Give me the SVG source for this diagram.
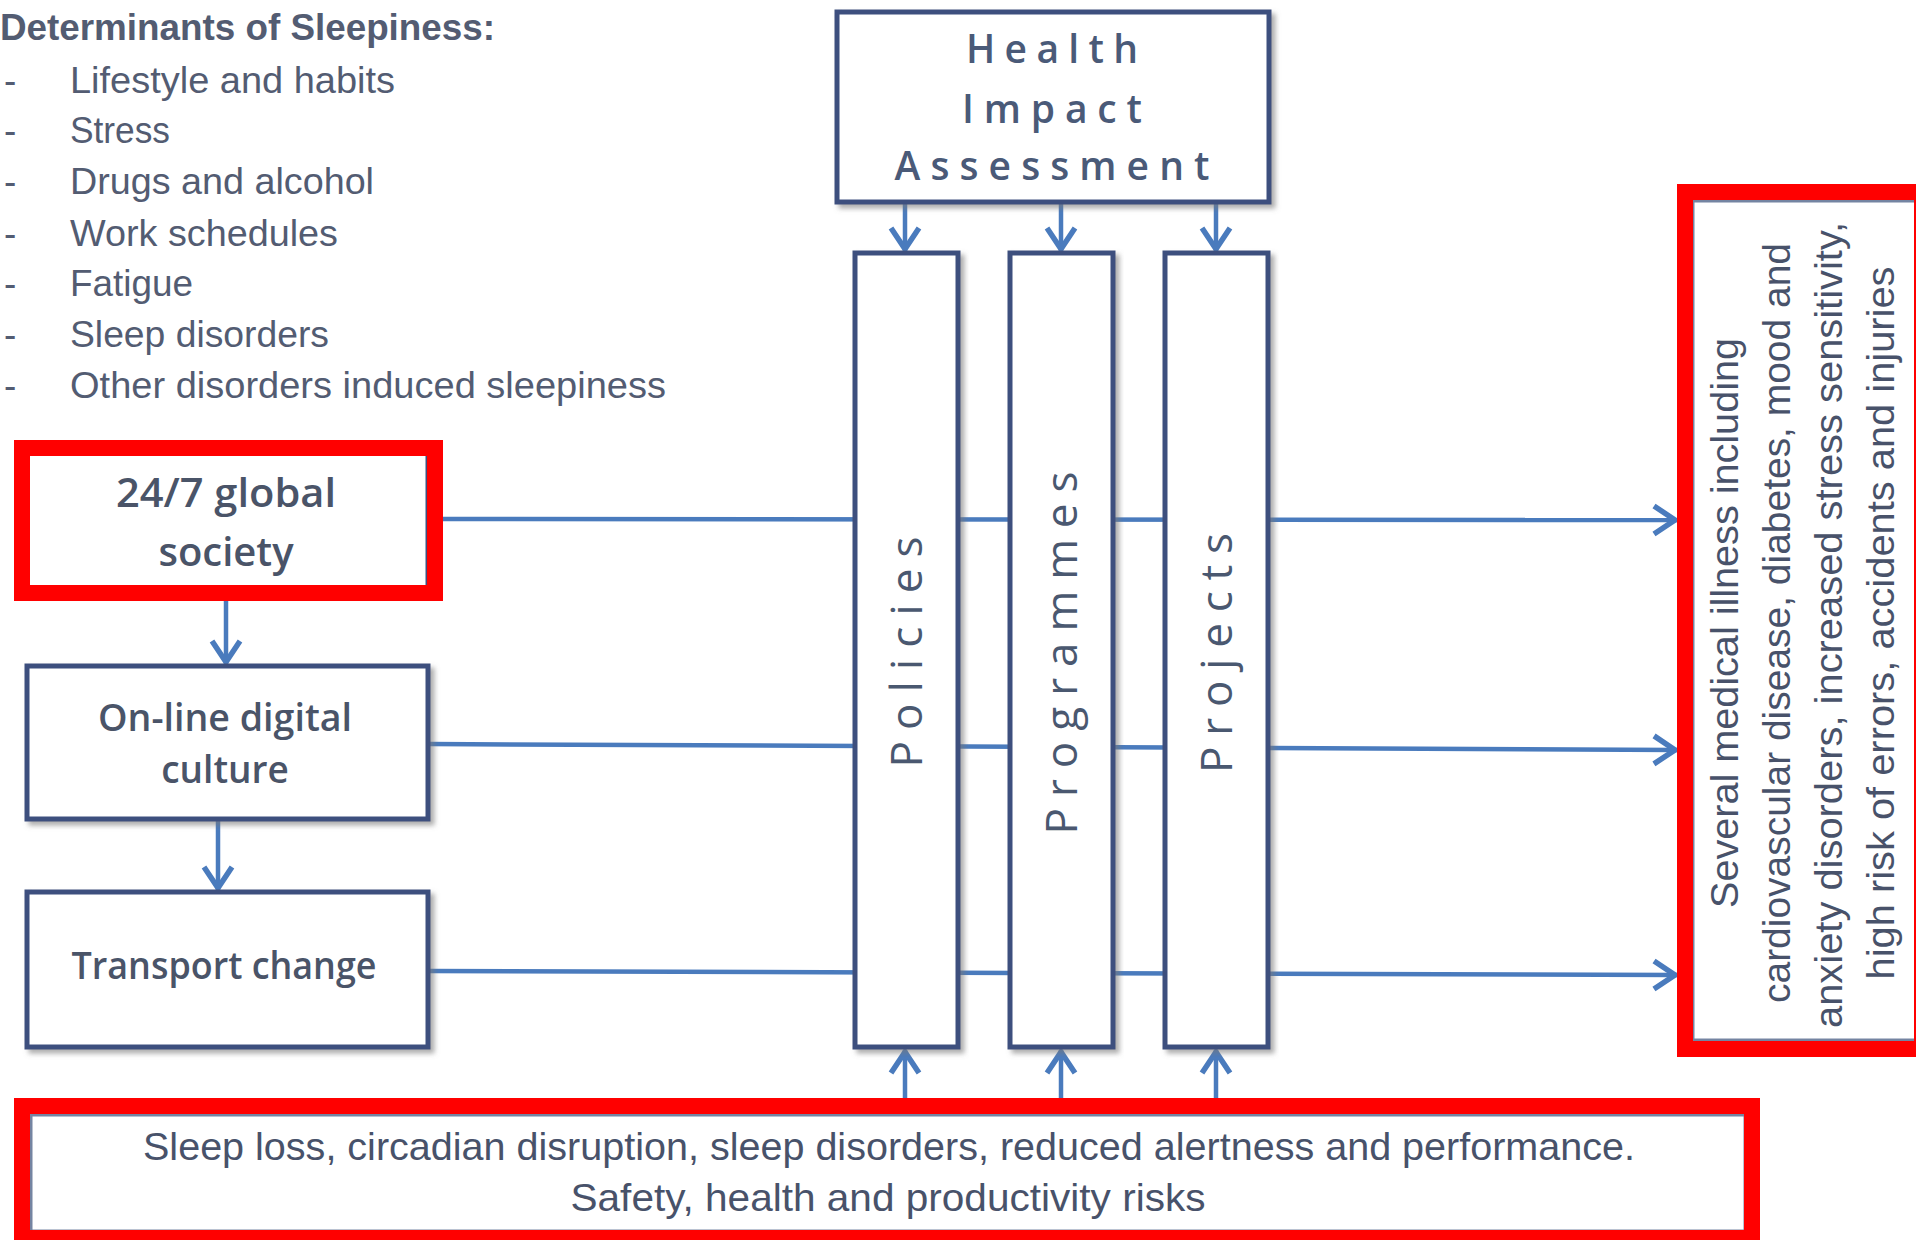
<svg xmlns="http://www.w3.org/2000/svg" width="1916" height="1240" viewBox="0 0 1916 1240">
<style>
.box{fill:#ffffff;stroke:#3d4f7e;stroke-width:5;filter:url(#sh)}
.conn{stroke:#4a7bbd;stroke-width:4.5;fill:none}
.hl{fill:none;stroke:#ff0000;stroke-width:16}
.lst{font-family:"Liberation Sans",Arial,sans-serif;font-size:37px;fill:#535c72}
.lbl{font-family:"Open Sans","Liberation Sans",sans-serif;font-weight:600;fill:#4a5468;text-anchor:middle}
.hia{font-family:"Open Sans","Liberation Sans",sans-serif;font-weight:600;font-size:39px;fill:#4a5a78;text-anchor:middle}
.vt{font-family:"Open Sans","Liberation Sans",sans-serif;font-size:44px;fill:#4a5870;text-anchor:middle}
.out{font-family:"Liberation Sans",Arial,sans-serif;font-size:39px;fill:#48526a;text-anchor:middle}
</style>
<defs>
<filter id="sh" x="-10%" y="-10%" width="120%" height="120%">
<feDropShadow dx="4" dy="4" stdDeviation="2.5" flood-color="#777777" flood-opacity="0.6"/>
</filter>
<marker id="ah" markerUnits="userSpaceOnUse" markerWidth="40" markerHeight="40" viewBox="-30 -20 40 40" refX="0" refY="0" orient="auto" overflow="visible">
<path d="M-23,-14 L-2,0 L-23,14" fill="none" stroke="#4a7bbd" stroke-width="5.5"/>
</marker>
</defs>
<rect width="1916" height="1240" fill="#ffffff"/>

<g id="determinants">
<text class="lst" x="0" y="40" font-size="36" font-weight="bold" textLength="495" lengthAdjust="spacingAndGlyphs" fill="#4a546a">Determinants of Sleepiness:</text>
<text class="lst" x="4" y="93">-</text><text class="lst" x="70" y="93" textLength="325" lengthAdjust="spacingAndGlyphs">Lifestyle and habits</text>
<text class="lst" x="4" y="143">-</text><text class="lst" x="70" y="143" textLength="100" lengthAdjust="spacingAndGlyphs">Stress</text>
<text class="lst" x="4" y="194">-</text><text class="lst" x="70" y="194" textLength="304" lengthAdjust="spacingAndGlyphs">Drugs and alcohol</text>
<text class="lst" x="4" y="246">-</text><text class="lst" x="70" y="246" textLength="268" lengthAdjust="spacingAndGlyphs">Work schedules</text>
<text class="lst" x="4" y="296">-</text><text class="lst" x="70" y="296" textLength="123" lengthAdjust="spacingAndGlyphs">Fatigue</text>
<text class="lst" x="4" y="347">-</text><text class="lst" x="70" y="347" textLength="259" lengthAdjust="spacingAndGlyphs">Sleep disorders</text>
<text class="lst" x="4" y="398">-</text><text class="lst" x="70" y="398" textLength="596" lengthAdjust="spacingAndGlyphs">Other disorders induced sleepiness</text>
</g>

<g id="connectors">
<line class="conn" x1="430" y1="519" x2="1677" y2="520" marker-end="url(#ah)"/>
<line class="conn" x1="430" y1="744" x2="1677" y2="750" marker-end="url(#ah)"/>
<line class="conn" x1="430" y1="971" x2="1677" y2="975" marker-end="url(#ah)"/>
<line class="conn" x1="226" y1="592" x2="226" y2="664" marker-end="url(#ah)"/>
<line class="conn" x1="218" y1="821" x2="218" y2="890" marker-end="url(#ah)"/>
<line class="conn" x1="905" y1="204" x2="905" y2="251" marker-end="url(#ah)"/>
<line class="conn" x1="1061" y1="204" x2="1061" y2="251" marker-end="url(#ah)"/>
<line class="conn" x1="1216" y1="204" x2="1216" y2="251" marker-end="url(#ah)"/>
<line class="conn" x1="905" y1="1114" x2="905" y2="1050" marker-end="url(#ah)"/>
<line class="conn" x1="1061" y1="1114" x2="1061" y2="1050" marker-end="url(#ah)"/>
<line class="conn" x1="1216" y1="1114" x2="1216" y2="1050" marker-end="url(#ah)"/>
</g>

<g id="hia">
<rect class="box" x="837" y="12" width="432" height="190"/>
<text class="hia" x="1052" y="63" textLength="172" lengthAdjust="spacing">Health</text>
<text class="hia" x="1052" y="123" textLength="180" lengthAdjust="spacing">Impact</text>
<text class="hia" x="1052" y="180" textLength="315" lengthAdjust="spacing">Assessment</text>
</g>

<g id="policies">
<rect class="box" x="855" y="253" width="103" height="794"/>
<text class="vt" transform="translate(922,652) rotate(-90)" textLength="231" lengthAdjust="spacing">Policies</text>
</g>
<g id="programmes">
<rect class="box" x="1010" y="253" width="103" height="794"/>
<text class="vt" transform="translate(1077,653) rotate(-90)" textLength="363" lengthAdjust="spacing">Programmes</text>
</g>
<g id="projects">
<rect class="box" x="1165" y="253" width="103" height="794"/>
<text class="vt" transform="translate(1232,653) rotate(-90)" textLength="240" lengthAdjust="spacing">Projects</text>
</g>

<g id="global-society">
<rect class="box" x="27" y="452" width="401" height="137"/>
<text class="lbl" x="226" y="507" font-size="40" font-weight="700" textLength="220" lengthAdjust="spacingAndGlyphs" fill="#434d62">24/7 global</text>
<text class="lbl" x="226" y="566" font-size="40" font-weight="700" fill="#434d62">society</text>
</g>
<g id="online-culture">
<rect class="box" x="27" y="666" width="401" height="153"/>
<text class="lbl" x="225" y="731" font-size="37" textLength="254" lengthAdjust="spacingAndGlyphs">On-line digital</text>
<text class="lbl" x="225" y="783" font-size="37">culture</text>
</g>
<g id="transport">
<rect class="box" x="27" y="892" width="401" height="155"/>
<text class="lbl" x="224" y="979" font-size="37" textLength="305" lengthAdjust="spacingAndGlyphs">Transport change</text>
</g>

<g id="outcomes">
<rect x="1693" y="201" width="230" height="839" fill="#ffffff" stroke="#7484a2" stroke-width="3"/>
<text class="out" transform="translate(1738,623) rotate(-90)" textLength="570" lengthAdjust="spacingAndGlyphs">Several medical illness including</text>
<text class="out" transform="translate(1790,623) rotate(-90)" textLength="760" lengthAdjust="spacingAndGlyphs">cardiovascular disease, diabetes, mood and</text>
<text class="out" transform="translate(1842,625) rotate(-90)" textLength="806" lengthAdjust="spacingAndGlyphs">anxiety disorders, increased stress sensitivity,</text>
<text class="out" transform="translate(1894,623) rotate(-90)" textLength="713" lengthAdjust="spacingAndGlyphs">high risk of errors, accidents and injuries</text>
</g>

<g id="consequences">
<rect x="31" y="1115" width="1714" height="116" fill="#ffffff" stroke="#7484a2" stroke-width="3"/>
<text class="out" x="889" y="1160" textLength="1492" lengthAdjust="spacingAndGlyphs">Sleep loss, circadian disruption, sleep disorders, reduced alertness and performance.</text>
<text class="out" x="888" y="1211" textLength="635" lengthAdjust="spacingAndGlyphs">Safety, health and productivity risks</text>
</g>

<g id="highlights">
<rect class="hl" x="22" y="448" width="413" height="145" stroke-width="15"/>
<rect class="hl" x="1685" y="192" width="237" height="857"/>
<rect class="hl" x="22" y="1106" width="1730" height="132"/>
</g>
</svg>
